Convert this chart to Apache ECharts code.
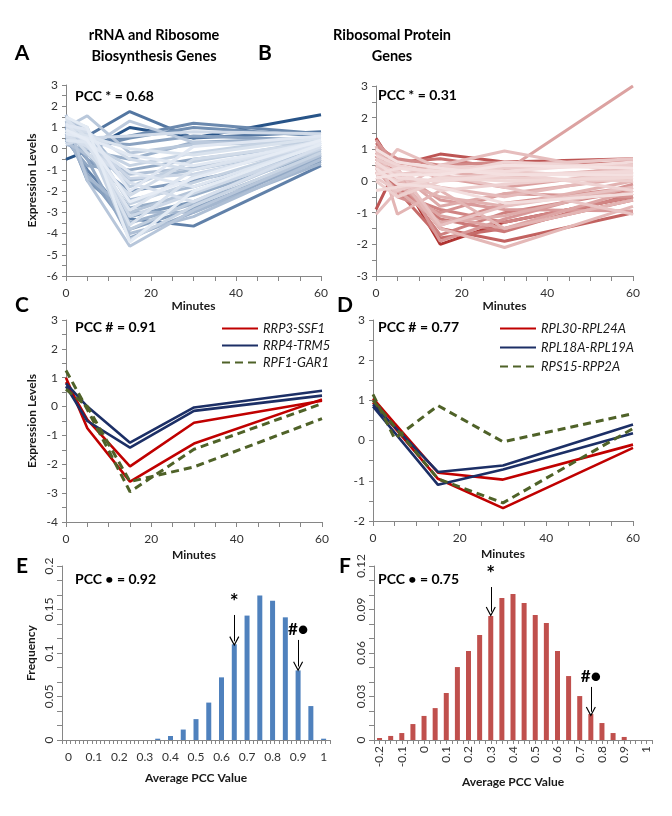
<!DOCTYPE html>
<html>
<head>
<meta charset="utf-8">
<script src="https://cdn.jsdelivr.net/npm/echarts@6/dist/echarts.min.js"></script>
<style>
html,body{margin:0;padding:0;background:#fff;}
#chart{width:672px;height:816px;}
</style>
</head>
<body>
<div id="chart"></div>
<script>
// ---------- DATA ----------
const times = [0, 5, 15, 30, 60];

// Panel A: rRNA and ribosome biosynthesis gene profiles (dark -> light)
const rrnaLines = [
  [-0.5, -0.1, 1.0, 0.5, 1.6],
  [0.9, 0.6, 1.75, 0.5, 0.8],
  [0.5, -1.0, -3.3, -3.65, -0.8],
  [1.2, 0.2, 0.6, 1.2, 0.7],
  [0.8, 0.0, 0.5, 1.0, 0.6],
  [1.0, -1.5, -3.2, -2.5, -0.6],
  [0.6, -0.5, -2.0, -1.5, -0.3],
  [1.1, -1.2, -3.8, -2.8, -0.5],
  [0.7, 0.3, 0.2, 0.6, 0.4],
  [0.4, -0.8, -1.0, -0.5, 0.2],
  [1.3, -0.5, -4.2, -3.0, -0.4],
  [0.9, -0.2, -2.8, -2.2, -0.2],
  [0.2, -0.1, -0.5, 0.3, 0.5],
  [1.0, 0.5, -3.5, -2.6, -0.3],
  [0.7, -1.3, -3.0, -3.0, -0.7],
  [1.5, 0.8, -1.5, -1.0, 0.1],
  [0.5, 0.1, -2.4, -1.8, 0.0],
  [1.2, 0.9, -4.0, -3.2, -0.5],
  [0.3, -0.3, -1.2, -0.9, 0.3],
  [0.8, 0.2, -3.0, -2.0, -0.1],
  [1.6, -1.5, -4.6, -2.9, -0.3],
  [1.0, 1.55, -0.2, 0.2, 0.3],
  [0.6, 0.0, 1.3, 0.3, 0.2],
  [1.4, 1.0, -3.8, -2.5, 0.0],
  [0.9, 0.3, -1.8, -0.6, 0.4],
  [1.2, 0.6, -2.6, -1.6, 0.2],
  [0.5, 0.2, -0.8, -0.2, 0.6],
  [1.1, 0.4, -4.3, -2.7, -0.2],
  [0.7, 0.4, -1.4, -1.2, 0.1],
  [1.3, 0.7, -3.2, -2.1, 0.0],
  [0.2, 0.5, 0.6, 0.8, 0.7],
  [0.9, -0.2, -2.2, -0.5, 0.3],
  [1.0, 0.8, -0.5, -1.0, 0.2],
  [0.6, 0.1, -1.6, -2.5, 0.1],
  [1.4, 0.5, -3.6, -1.3, 0.3],
  [0.8, 0.6, 0.0, -0.3, 0.5],
  [1.2, 0.2, -2.9, -1.0, 0.4],
  [0.4, 0.3, -1.1, -1.8, 0.2],
  [1.1, 0.9, -2.0, 0.1, 0.6],
  [0.7, 0.5, -0.3, -0.8, 0.3],
  [1.5, 1.0, -4.4, -2.0, 0.2],
  [0.9, 0.4, -2.5, -1.4, 0.4]
];

// Panel B: ribosomal protein gene profiles (dark -> light)
const rpLines = [
  [1.35, 0.3, -2.0, -1.3, -0.5],
  [-0.9, 0.5, 0.85, 0.6, 0.7],
  [1.0, 0.2, -1.5, -1.9, -1.0],
  [0.8, -0.3, -1.8, -1.5, -0.6],
  [1.2, 0.6, 0.7, 0.4, 0.6],
  [0.6, -0.2, -1.2, -1.6, -0.4],
  [0.9, 0.1, -1.7, -1.0, -0.3],
  [0.4, -0.4, -0.9, -1.3, -0.5],
  [1.1, 0.7, 0.5, 0.6, 0.5],
  [0.7, 0.0, -1.4, -0.7, -0.2],
  [0.5, -0.5, -1.0, -0.4, -0.5],
  [1.3, 0.4, -1.9, -1.2, -0.1],
  [0.2, 0.3, -0.6, -0.9, -0.95],
  [0.9, 0.5, 0.1, -0.2, 0.3],
  [0.5, 0.2, 0.3, 0.3, 3.0],
  [0.6, -0.1, -1.1, -1.5, -0.3],
  [1.0, 0.3, -0.8, -0.4, 0.1],
  [0.3, -0.3, -1.3, -1.1, -0.2],
  [0.8, 0.6, 0.3, 0.1, 0.4],
  [0.4, 0.0, -0.5, -0.8, 0.0],
  [1.1, -1.05, -0.3, -1.5, -0.6],
  [0.7, 0.2, -1.5, -2.1, -0.8],
  [0.5, 0.1, -0.2, -0.5, 0.2],
  [-1.05, -0.3, 0.5, 0.95, 0.2],
  [0.2, 1.0, 0.4, 0.3, 0.1],
  [0.9, 0.4, -1.4, -0.8, -0.2],
  [0.6, -0.5, 0.2, -0.2, -1.05],
  [0.4, 0.2, 0.4, 0.5, 0.7],
  [0.1, -0.3, 0.1, 0.2, 0.3],
  [0.7, 0.4, 0.3, 0.4, 0.5],
  [0.0, -0.5, 0.0, 0.1, 0.0],
  [0.5, 0.3, -0.3, -0.1, 0.2],
  [0.3, 0.0, 0.5, 0.3, -0.3],
  [0.8, 0.5, 0.2, 0.6, 0.4],
  [-0.3, -0.2, 0.1, 0.0, 0.1],
  [0.6, 0.1, 0.0, 0.2, 0.3],
  [0.2, 0.4, 0.3, 0.3, 0.6],
  [0.4, -0.1, -0.2, -0.7, -0.4],
  [1.0, 0.6, 0.4, 0.2, 0.2],
  [0.1, 0.2, 0.2, 0.5, 0.4]
];

// Panel C pairs
const cNames = ['RRP3-SSF1', 'RRP4-TRM5', 'RPF1-GAR1'];
const cRed1 = [1.0, -0.75, -2.6, -1.28, 0.25];
const cRed2 = [0.85, -0.45, -2.07, -0.56, 0.2];
const cBlue1 = [0.8, 0.0, -1.25, -0.03, 0.55];
const cBlue2 = [0.7, -0.5, -1.42, -0.15, 0.38];
const cGreen1 = [1.25, -0.1, -2.95, -1.48, 0.1];
const cGreen2 = [0.6, 0.0, -2.6, -2.09, -0.42];

// Panel D pairs
const dNames = ['RPL30-RPL24A', 'RPL18A-RPL19A', 'RPS15-RPP2A'];
const dRed1 = [1.05, 0.43, -0.8, -0.97, -0.1];
const dRed2 = [0.95, 0.32, -0.95, -1.68, -0.18];
const dBlue1 = [0.9, 0.34, -0.78, -0.62, 0.4];
const dBlue2 = [0.85, 0.2, -1.1, -0.72, 0.18];
const dGreen1 = [1.15, 0.05, 0.87, -0.03, 0.67];
const dGreen2 = [1.0, 0.35, -0.95, -1.55, 0.3];

// Panel E histogram
const eBins = ['0','0.05','0.1','0.15','0.2','0.25','0.3','0.35','0.4','0.45','0.5','0.55','0.6','0.65','0.7','0.75','0.8','0.85','0.9','0.95','1'];
const eFreq = [0,0,0,0,0,0,0,0.0015,0.0046,0.012,0.024,0.043,0.072,0.110,0.143,0.166,0.160,0.141,0.080,0.039,0.0015];

// Panel F histogram
const fBins = ['-0.2','-0.15','-0.1','-0.05','0','0.05','0.1','0.15','0.2','0.25','0.3','0.35','0.4','0.45','0.5','0.55','0.6','0.65','0.7','0.75','0.8','0.85','0.9','0.95','1'];
const fFreq = [0.0014,0.0028,0.0048,0.011,0.0166,0.022,0.0324,0.0503,0.0614,0.0724,0.0855,0.098,0.1007,0.0945,0.0862,0.0807,0.0614,0.0441,0.0303,0.0179,0.0117,0.0048,0.0021,0,0];

// ---------- STYLE HELPERS ----------
const FONT = 'Lato';
const AX = '#868686';
function mix(c1, c2, t) {
  const r = Math.round(c1[0] + (c2[0] - c1[0]) * t);
  const g = Math.round(c1[1] + (c2[1] - c1[1]) * t);
  const b = Math.round(c1[2] + (c2[2] - c1[2]) * t);
  return 'rgb(' + r + ',' + g + ',' + b + ')';
}
function zip(vals) { return vals.map((v, i) => [times[i], v]); }

function lineXAxis(grid, gap) {
  return {
    type: 'value', gridIndex: grid, min: 0, max: 60, interval: 20,
    axisLine: { show: true, onZero: false, lineStyle: { color: AX } },
    axisTick: { show: true, length: 5, lineStyle: { color: AX } },
    minorTick: { show: true, splitNumber: 4, length: 5, lineStyle: { color: AX } },
    splitLine: { show: false }, minorSplitLine: { show: false },
    axisLabel: { fontSize: 12, color: '#333', margin: 11, fontFamily: FONT },
    name: 'Minutes', nameLocation: 'middle', nameGap: gap,
    nameTextStyle: { fontWeight: 'bold', fontSize: 12, color: '#1a1a1a', fontFamily: FONT }
  };
}
function lineYAxis(grid, min, max, name) {
  return {
    type: 'value', gridIndex: grid, min: min, max: max, interval: 1,
    axisLine: { show: true, onZero: false, lineStyle: { color: AX } },
    axisTick: { show: true, length: 4, lineStyle: { color: AX } },
    minorTick: { show: true, splitNumber: 2, length: 4, lineStyle: { color: AX } },
    splitLine: { show: false }, minorSplitLine: { show: false },
    axisLabel: { fontSize: 12, color: '#333', margin: 8, fontFamily: FONT },
    name: name || '', nameLocation: 'middle', nameGap: 28, nameRotate: 90,
    nameTextStyle: { fontWeight: 'bold', fontSize: 12, color: '#1a1a1a', fontFamily: FONT }
  };
}

const series = [];
// Panel A
rrnaLines.forEach((vals, i) => {
  const t = Math.pow(i / (rrnaLines.length - 1), 0.4);
  series.push({
    type: 'line', xAxisIndex: 0, yAxisIndex: 0, data: zip(vals), symbol: 'none', silent: true,
    lineStyle: { width: 3, color: mix([40, 84, 136], [230, 236, 245], t) }
  });
});
// Panel B
rpLines.forEach((vals, i) => {
  const t = Math.pow(i / (rpLines.length - 1), 0.45);
  series.push({
    type: 'line', xAxisIndex: 1, yAxisIndex: 1, data: zip(vals), symbol: 'none', silent: true,
    lineStyle: { width: 3, color: mix([176, 52, 50], [245, 226, 226], t) }
  });
});
// Panels C, D
const RED = '#C00000', NAVY = '#1C2F66', OLIVE = '#4F6228';
function pairLine(ax, name, vals, color, dashed) {
  series.push({
    type: 'line', xAxisIndex: ax, yAxisIndex: ax, name: name, data: zip(vals), symbol: 'none', silent: true,
    lineStyle: { width: dashed ? 3 : 2.6, color: color, type: dashed ? [8, 5] : 'solid' },
    itemStyle: { color: color }
  });
}
pairLine(2, cNames[0], cRed1, RED, false);
pairLine(2, cNames[0], cRed2, RED, false);
pairLine(2, cNames[1], cBlue1, NAVY, false);
pairLine(2, cNames[1], cBlue2, NAVY, false);
pairLine(2, cNames[2], cGreen1, OLIVE, true);
pairLine(2, cNames[2], cGreen2, OLIVE, true);
pairLine(3, dNames[0], dRed1, RED, false);
pairLine(3, dNames[0], dRed2, RED, false);
pairLine(3, dNames[1], dBlue1, NAVY, false);
pairLine(3, dNames[1], dBlue2, NAVY, false);
pairLine(3, dNames[2], dGreen1, OLIVE, true);
pairLine(3, dNames[2], dGreen2, OLIVE, true);

const CHEVRON = 'path://M5,0 L10,9 L9,9.6 L5,2.4 L1,9.6 L0,9 Z';
function arrow(cat, y0, y1, text, size) {
  return [
    { coord: [cat, y0], label: { show: true, position: 'start', formatter: text, distance: 2, fontSize: size } },
    { coord: [cat, y1] }
  ];
}
const mlStyle = {
  silent: true, symbol: ['none', CHEVRON], symbolSize: [10, 10],
  lineStyle: { color: '#000', width: 1, type: 'solid' },
  label: { color: '#000', fontWeight: 'bold', fontSize: 17, fontFamily: FONT },
  emphasis: { disabled: true }
};
series.push({
  type: 'bar', xAxisIndex: 4, yAxisIndex: 4, data: eFreq, barWidth: 5, silent: true,
  itemStyle: { color: '#4F81BD' },
  markLine: Object.assign({}, mlStyle, {
    data: [arrow('0.65', 0.1437, 0.1135, '*', 21), arrow('0.9', 0.115, 0.0845, '#\u25CF', 17)]
  })
});
series.push({
  type: 'bar', xAxisIndex: 5, yAxisIndex: 5, data: fFreq, barWidth: 5, silent: true,
  itemStyle: { color: '#C0504D' },
  markLine: Object.assign({}, mlStyle, {
    data: [arrow('0.3', 0.1055, 0.0885, '*', 21), arrow('0.75', 0.0366, 0.0195, '#\u25CF', 17)]
  })
});

function histYAxis(grid, max, interval, name) {
  return {
    type: 'value', gridIndex: grid, min: 0, max: max, interval: interval,
    axisLine: { show: true, lineStyle: { color: AX } },
    axisTick: { show: true, length: 5, lineStyle: { color: AX } },
    minorTick: { show: true, splitNumber: 3, length: 5, lineStyle: { color: AX } },
    splitLine: { show: false }, minorSplitLine: { show: false },
    axisLabel: { fontSize: 12, color: '#333', margin: 7, rotate: 90, fontFamily: FONT },
    name: name || '', nameLocation: 'middle', nameGap: 25, nameRotate: 90,
    nameTextStyle: { fontWeight: 'bold', fontSize: 12, color: '#1a1a1a', fontFamily: FONT }
  };
}
function histXAxis(grid, data, rotate, gap) {
  return {
    type: 'category', gridIndex: grid, data: data, boundaryGap: true, position: 'bottom',
    axisLine: { show: true, lineStyle: { color: AX } },
    axisTick: { show: false },
    axisLabel: { interval: 1, fontSize: 12, color: '#333', margin: rotate ? 6 : 11, rotate: rotate, fontFamily: FONT },
    name: 'Average PCC Value', nameLocation: 'middle', nameGap: gap,
    nameTextStyle: { fontWeight: 'bold', fontSize: 12, color: '#1a1a1a', fontFamily: FONT }
  };
}
function tickAxis(grid, n) {
  return {
    type: 'value', gridIndex: grid, min: 0, max: n, interval: 1, position: 'bottom',
    axisLine: { show: false }, axisLabel: { show: false }, splitLine: { show: false },
    axisTick: { show: true, length: 4, lineStyle: { color: AX } }
  };
}

function txt(x, y, s, size, align, extra) {
  return Object.assign({
    type: 'text', x: x, y: y, silent: true,
    style: { text: s, fontSize: size, fontWeight: 'bold', fontFamily: FONT, fill: '#000',
             align: align || 'left', verticalAlign: 'middle' }
  }, extra || {});
}

const legendBase = {
  orient: 'vertical', itemWidth: 36, itemHeight: 10, selectedMode: false,
  itemStyle: { opacity: 0 },
  textStyle: { fontStyle: 'italic', fontSize: 13, color: '#1a1a1a', fontFamily: FONT }
};

const option = {
  animation: false,
  backgroundColor: '#fff',
  textStyle: { fontFamily: FONT },
  grid: [
    { left: 66, top: 85, width: 255, height: 191 },
    { left: 376, top: 86, width: 257, height: 190 },
    { left: 66, top: 320, width: 256, height: 202 },
    { left: 373, top: 320, width: 260, height: 201 },
    { left: 62, top: 566, width: 268, height: 174 },
    { left: 374, top: 566, width: 278, height: 174 }
  ],
  xAxis: [
    lineXAxis(0, 18), lineXAxis(1, 18), lineXAxis(2, 27), lineXAxis(3, 27),
    histXAxis(4, eBins, 0, 32), histXAxis(5, fBins, 90, 36),
    tickAxis(4, 63), tickAxis(5, 50)
  ],
  yAxis: [
    lineYAxis(0, -6, 3, 'Expression Levels'),
    lineYAxis(1, -3, 3, ''),
    lineYAxis(2, -4, 3, 'Expression Levels'),
    lineYAxis(3, -2, 3, ''),
    histYAxis(4, 0.2, 0.05, 'Frequency'),
    histYAxis(5, 0.12, 0.03, '')
  ],
  legend: [
    Object.assign({ data: cNames, left: 216, top: 317, itemGap: 4 }, legendBase),
    Object.assign({ data: dNames, left: 494, top: 317, itemGap: 6 }, legendBase)
  ],
  graphic: [
    txt(22, 53, 'A', 21, 'center'),
    txt(265, 53, 'B', 21, 'center'),
    txt(22, 305, 'C', 21, 'center'),
    txt(345, 305, 'D', 21, 'center'),
    txt(22, 566, 'E', 21, 'center'),
    txt(345, 566, 'F', 21, 'center'),
    txt(154, 35, 'rRNA and Ribosome', 14.5, 'center'),
    txt(154, 56, 'Biosynthesis Genes', 14.5, 'center'),
    txt(392, 35, 'Ribosomal Protein', 14.5, 'center'),
    txt(392, 56, 'Genes', 14.5, 'center'),
    txt(75, 96, 'PCC * = 0.68', 14, 'left'),
    txt(378, 95, 'PCC * = 0.31', 14, 'left'),
    txt(75, 327, 'PCC # = 0.91', 14, 'left'),
    txt(378, 327, 'PCC # = 0.77', 14, 'left'),
    txt(75, 579, 'PCC \u2022 = 0.92', 14, 'left'),
    txt(378, 579, 'PCC \u2022 = 0.75', 14, 'left')
  ],
  series: series
};

const chart = echarts.init(document.getElementById('chart'), null, { renderer: 'canvas' });
chart.setOption(option);
</script>
</body>
</html>
